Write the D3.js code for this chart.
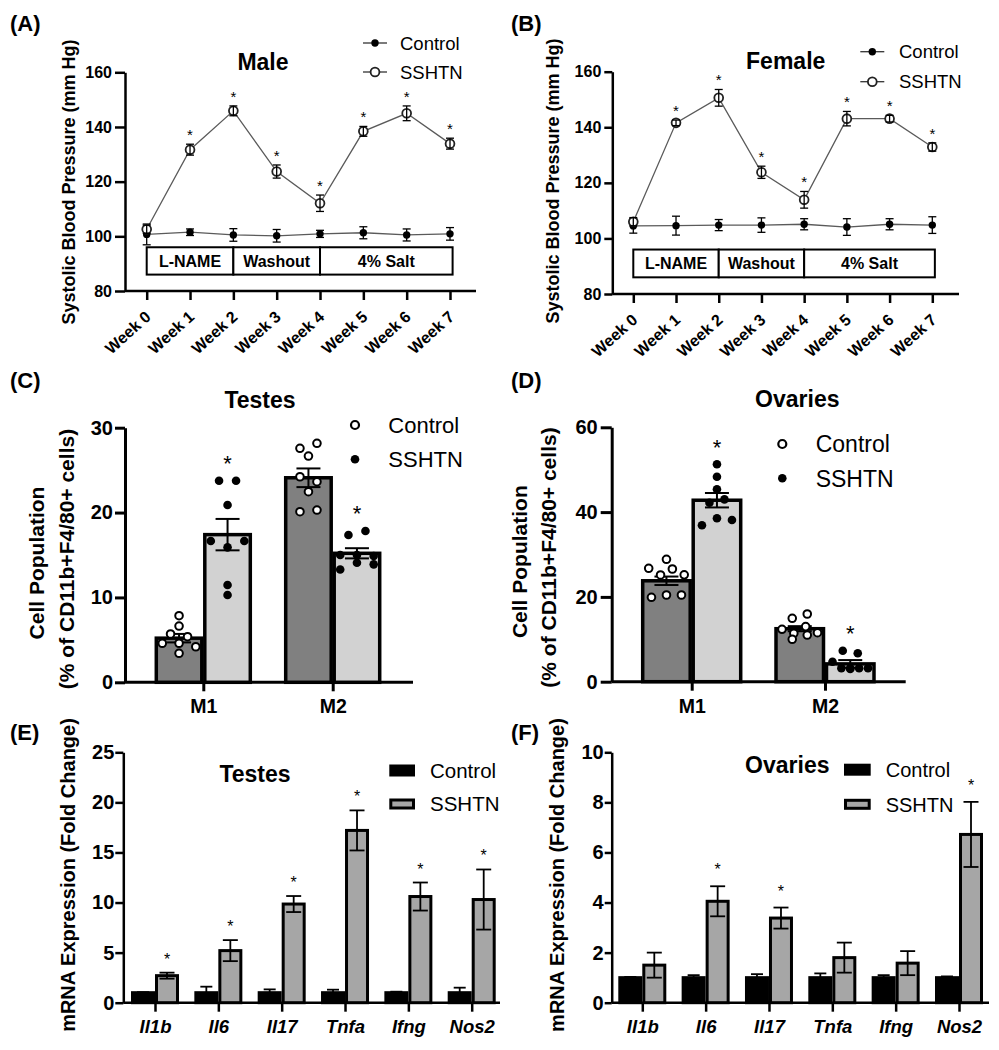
<!DOCTYPE html>
<html><head><meta charset="utf-8">
<script src="https://cdn.jsdelivr.net/npm/d3@7"></script>
<style>
body{margin:0;background:#fff;}
svg{display:block;}
text{font-family:"Liberation Sans",Arial,sans-serif;fill:#000;}
</style></head><body>
<svg id="fig" width="999" height="1050"></svg>
<script>
// ---------------- DATA ----------------
const weeks = ["Week 0","Week 1","Week 2","Week 3","Week 4","Week 5","Week 6","Week 7"];
const bpTicks = [80,100,120,140,160];
const maleControl    = [100.7,101.5,100.5,100.2,100.9,101.3,100.5,100.9];
const maleControlErr = [3.8,1.2,2.3,2.3,1.3,2.2,2.2,2.3];
const maleSSHTN      = [102.6,131.7,145.9,123.7,112.1,138.4,145.0,133.9];
const maleSSHTNErr   = [1.5,2.0,1.8,2.4,3.0,1.8,2.7,2.0];
const maleSig        = [0,1,1,1,1,1,1,1];
const femaleControl    = [104.5,104.6,104.8,104.8,105.1,104.1,105.1,104.8];
const femaleControlErr = [2.6,3.4,2.0,2.6,2.0,3.0,2.0,3.0];
const femaleSSHTN      = [106.0,141.6,150.6,123.8,113.9,143.1,143.1,132.9];
const femaleSSHTNErr   = [1.5,1.0,3.0,2.2,3.0,2.6,1.2,1.5];
const femaleSig        = [0,1,1,1,1,1,1,1];
const phaseLabels = ["L-NAME","Washout","4% Salt"];
const phaseStart  = [0,2,4];
const phaseEnd    = [2,4,7.06];
const phaseLow = 86, phaseHigh = 96;

const cellTypes = ["M1","M2"];
const testesTicks = [0,10,20,30];
const testesCtrlMean = [5.2,24.1];
const testesCtrlSem  = [0.5,1.1];
const testesSSMean   = [17.4,15.2];
const testesSSSem    = [1.85,0.6];
const testesM1Ctrl = [7.85,6.63,5.69,5.37,4.6,4.6,4.19,3.42];
const testesM1SS   = [23.75,23.75,20.9,16.65,15.9,16.65,11.46,10.29];
const testesM2Ctrl = [27.57,28.16,26.66,24.22,23.64,22.46,20.1,20.3];
const testesM2SS   = [17.36,17.83,15.0,15.0,14.88,13.3,14.09,13.9];
const testesSig    = [1,1];

const ovaryTicks = [0,20,40,60];
const ovaryCtrlMean = [23.8,12.5];
const ovaryCtrlSem  = [1.0,0.6];
const ovarySSMean   = [42.8,4.2];
const ovarySSSem    = [1.7,0.9];
const ovaryM1Ctrl = [28.87,26.75,25.17,26.58,25.2,19.9,20.45,20.45];
const ovaryM1SS   = [51.3,48.35,45.38,42.2,43.0,36.9,38.54,38.14];
const ovaryM2Ctrl = [14.95,15.97,12.36,11.42,13.0,11.56,10.0,11.0];
const ovaryM2SS   = [7.3,6.7,4.7,3.2,3.2,3.2,3.2,3.0];
const ovarySig    = [1,1];

const genes = ["Il1b","Il6","Il17","Tnfa","Ifng","Nos2"];
const testesTicksE = [0,5,10,15,20,25];
const testesGeneCtrl    = [1,1,1,1,1,1];
const testesGeneCtrlErr = [0.05,0.6,0.33,0.3,0.1,0.5];
const testesGeneSS      = [2.7,5.2,9.85,17.2,10.6,10.3];
const testesGeneSSErr   = [0.3,1.05,0.8,2.0,1.4,3.0];
const testesGeneSig     = [1,1,1,1,1,1];
const ovaryTicksF = [0,2,4,6,8,10];
const ovaryGeneCtrl    = [1,1,1,1,1,1];
const ovaryGeneCtrlErr = [0.03,0.1,0.14,0.17,0.1,0.05];
const ovaryGeneSS      = [1.5,4.05,3.38,1.8,1.58,6.72];
const ovaryGeneSSErr   = [0.5,0.6,0.42,0.6,0.48,1.3];
const ovaryGeneSig     = [0,1,1,0,0,1];

// ---------------- DRAWING ----------------
const svg = d3.select("#fig");
svg.append("rect").attr("width",999).attr("height",1050).attr("fill","#fff");
const TITLE_FONT = 'Lato, "Open Sans", sans-serif';
const ARIAL = '"Liberation Sans",Arial,sans-serif';

function txt(x,y,s,size,opts={}){
  const t = svg.append("text").attr("x",x).attr("y",y).attr("font-size",size).attr("fill","#000").text(s);
  if(opts.bold) t.attr("font-weight","bold");
  if(opts.anchor) t.attr("text-anchor",opts.anchor);
  if(opts.family) t.attr("font-family",opts.family);
  if(opts.dy) t.attr("dy",opts.dy);
  if(opts.rotate) t.attr("transform",`rotate(${opts.rotate},${x},${y})`);
  return t;
}

function yAxis(scale, x, ticks, o){
  const g = svg.append("g").attr("transform",`translate(${x},0)`);
  g.call(d3.axisLeft(scale).tickValues(ticks).tickSize(o.tickLen).tickSizeOuter(0).tickPadding(o.pad));
  g.select(".domain").attr("stroke","#000").attr("stroke-width",o.sw);
  g.selectAll(".tick line").attr("stroke","#000").attr("stroke-width",o.sw);
  g.selectAll(".tick text").attr("font-size",o.fs).attr("font-weight","bold")
    .attr("font-family",ARIAL).attr("fill","#000");
  return g;
}
function hLine(x1,x2,y,sw){
  svg.append("line").attr("x1",x1).attr("x2",x2).attr("y1",y).attr("y2",y).attr("stroke","#000").attr("stroke-width",sw);
}
function errBar(x,y1,y2,cap,sw){
  const g = svg.append("g").attr("stroke","#000").attr("stroke-width",sw);
  g.append("line").attr("x1",x).attr("x2",x).attr("y1",y1).attr("y2",y2);
  g.append("line").attr("x1",x-cap/2).attr("x2",x+cap/2).attr("y1",y1).attr("y2",y1);
  g.append("line").attr("x1",x-cap/2).attr("x2",x+cap/2).attr("y1",y2).attr("y2",y2);
}

// ---- Panels A/B: line charts ----
function linePanel(c){
  const x = d3.scaleLinear().domain([0,weeks.length-1]).range([c.x0,c.x1]);
  const y = d3.scaleLinear().domain([80,160]).range([c.yB,c.yT]);
  yAxis(y,c.axisX,bpTicks,{tickLen:c.tickLen,pad:3,sw:2.5,fs:16});
  hLine(c.axisX,c.axisEnd,c.yB,2.5);
  const xg = svg.append("g").attr("transform",`translate(0,${c.yB})`);
  xg.call(d3.axisBottom(x).tickValues(d3.range(weeks.length)).tickFormat(i=>weeks[i]).tickSize(9).tickSizeOuter(0));
  xg.select(".domain").remove();
  xg.selectAll(".tick line").attr("stroke","#000").attr("stroke-width",2.5);
  xg.selectAll(".tick text").attr("font-size",16).attr("font-weight","bold")
    .attr("font-family",ARIAL).attr("fill","#000")
    .attr("text-anchor","end").attr("y",0).attr("dy","0.35em")
    .attr("transform","translate(1,23) rotate(-42)");

  // phase boxes
  phaseLabels.forEach((lab,i)=>{
    svg.append("rect").attr("x",x(phaseStart[i])).attr("y",y(phaseHigh))
      .attr("width",x(phaseEnd[i])-x(phaseStart[i])).attr("height",y(phaseLow)-y(phaseHigh))
      .attr("fill","#fff").attr("stroke","#000").attr("stroke-width",2);
    txt((x(phaseStart[i])+x(phaseEnd[i]))/2,(y(phaseLow)+y(phaseHigh))/2,lab,16,{bold:true,anchor:"middle",dy:"0.36em"});
  });

  const line = d3.line().x((d,i)=>x(i)).y(d=>y(d));
  [c.ctrl,c.ss].forEach(s=>{
    svg.append("path").datum(s).attr("d",line).attr("fill","none").attr("stroke","#5a5a5a").attr("stroke-width",1.3);
  });
  c.ctrl.forEach((v,i)=>{
    svg.append("circle").attr("cx",x(i)).attr("cy",y(v)).attr("r",3.7).attr("fill","#000");
    errBar(x(i),y(v+c.ctrlErr[i]),y(v-c.ctrlErr[i]),8,1.3);
  });
  c.ss.forEach((v,i)=>{
    svg.append("circle").attr("cx",x(i)).attr("cy",y(v)).attr("r",4.4).attr("fill","#fff").attr("stroke","#222").attr("stroke-width",1.8);
    errBar(x(i),y(v+c.ssErr[i]),y(v-c.ssErr[i]),8,1.3);
    if(c.sig[i]) txt(x(i),y(v+c.ssErr[i])-4,"*",15,{anchor:"middle"});
  });
  // legend
  [["Control",c.legY[0],true],["SSHTN",c.legY[1],false]].forEach(([lab,ly,filled])=>{
    svg.append("line").attr("x1",c.legX-12).attr("x2",c.legX+12).attr("y1",ly).attr("y2",ly).attr("stroke","#333").attr("stroke-width",1.3);
    if(filled) svg.append("circle").attr("cx",c.legX).attr("cy",ly).attr("r",3.7).attr("fill","#000");
    else svg.append("circle").attr("cx",c.legX).attr("cy",ly).attr("r",4.4).attr("fill","#fff").attr("stroke","#222").attr("stroke-width",1.8);
    txt(c.legTX,ly,lab,18.5,{dy:"0.36em"});
  });
  txt(c.titleX,c.titleY,c.title,23,{bold:true,anchor:"middle",family:TITLE_FONT});
  txt(c.ylabX,c.ylabY,"Systolic Blood Pressure (mm Hg)",18,{bold:true,anchor:"middle",rotate:-90});
}

linePanel({x0:146.7,x1:450,yB:291,yT:72.3,axisX:125,axisEnd:476,tickLen:10,
  ctrl:maleControl,ctrlErr:maleControlErr,ss:maleSSHTN,ssErr:maleSSHTNErr,sig:maleSig,
  legX:375,legY:[43,72],legTX:400,title:"Male",titleX:263,titleY:70,ylabX:75,ylabY:182});
linePanel({x0:633.3,x1:932.3,yB:294,yT:71.7,axisX:612.3,axisEnd:959,tickLen:8,
  ctrl:femaleControl,ctrlErr:femaleControlErr,ss:femaleSSHTN,ssErr:femaleSSHTNErr,sig:femaleSig,
  legX:872.3,legY:[51.7,81.7],legTX:899,title:"Female",titleX:785.7,titleY:68.5,ylabX:559,ylabY:181});

// ---- Panels C/D: bar + scatter ----
function swarm(vals, y, step, maxSpan, thr){
  const order = vals.map((v,i)=>i).sort((a,b)=>vals[b]-vals[a]);
  const rows=[]; let cur=null;
  order.forEach(i=>{
    const py=y(vals[i]);
    if(cur && Math.abs(py-cur.start)<thr){cur.idx.push(i);}
    else {cur={start:py,idx:[i]};rows.push(cur);}
  });
  const out=new Array(vals.length);
  rows.forEach(r=>{
    r.idx.sort((a,b)=>a-b);
    const n=r.idx.length;
    const st = n>1 ? Math.min(step, maxSpan/(n-1)) : 0;
    r.idx.forEach((i,j)=>{ out[i]={dx:(j-(n-1)/2)*st, y:y(vals[i])}; });
  });
  return out;
}
function cellPanel(c){
  const y = d3.scaleLinear().domain([0,c.max]).range([c.yB,c.yT]);
  const x = d3.scalePoint().domain(cellTypes).range([c.m1,c.m2]);
  yAxis(y,c.axisX,c.ticks,{tickLen:c.tickLen,pad:c.pad,sw:3,fs:20});
  hLine(c.axisX,c.axisEnd,c.yB,3);
  const xg = svg.append("g").attr("transform",`translate(0,${c.yB})`);
  xg.call(d3.axisBottom(x).tickSize(9).tickSizeOuter(0).tickPadding(8));
  xg.select(".domain").remove();
  xg.selectAll(".tick line").attr("stroke","#000").attr("stroke-width",3);
  xg.selectAll(".tick text").attr("font-size",19.5).attr("font-weight","bold")
    .attr("font-family",ARIAL).attr("fill","#000");

  const bw=c.bw, sw=3.5;
  const groups=[
    {mean:c.ctrlMean,sem:c.ctrlSem,pts:c.ctrlPts,fill:"#808080",off:-1.5-bw,open:true},
    {mean:c.ssMean,sem:c.ssSem,pts:c.ssPts,fill:"#d2d2d2",off:1.5,open:false}
  ];
  groups.forEach(gr=>{
    cellTypes.forEach((ct,k)=>{
      const bx=x(ct)+gr.off;
      svg.append("rect").attr("x",bx).attr("y",y(gr.mean[k])).attr("width",bw)
        .attr("height",c.yB-y(gr.mean[k])).attr("fill",gr.fill).attr("stroke","#000").attr("stroke-width",sw);
    });
  });
  groups.forEach((gr,gi)=>{
    cellTypes.forEach((ct,k)=>{
      const cx=x(ct)+gr.off+bw/2;
      errBar(cx,y(gr.mean[k]+gr.sem[k]),y(gr.mean[k]-gr.sem[k]),c.cap,2);
      const pos=swarm(gr.pts[k],y,c.step,bw-12,7);
      pos.forEach(p=>{
        const ci=svg.append("circle").attr("cx",cx+p.dx).attr("cy",p.y);
        if(gr.open) ci.attr("r",3.8).attr("fill","#fff").attr("stroke","#000").attr("stroke-width",2);
        else ci.attr("r",4.3).attr("fill","#000");
      });
      if(gi===1 && c.sig[k]){
        const top=d3.max(gr.pts[k]);
        txt(cx,y(top)-9.5,"*",22,{anchor:"middle"});
      }
    });
  });
  // legend
  svg.append("circle").attr("cx",c.legX).attr("cy",c.legY[0]).attr("r",4).attr("fill","#fff").attr("stroke","#000").attr("stroke-width",2.2);
  svg.append("circle").attr("cx",c.legX).attr("cy",c.legY[1]).attr("r",4.3).attr("fill","#000");
  txt(c.legTX,c.legY[0],"Control",c.legFs,{dy:"0.36em"});
  txt(c.legTX,c.legY[1],"SSHTN",c.legFs,{dy:"0.36em"});
  txt(c.titleX,c.titleY,c.title,23,{bold:true,anchor:"middle",family:TITLE_FONT});
  txt(c.yl1X,c.yl1Y,"Cell Population",21,{bold:true,anchor:"middle",rotate:-90});
  txt(c.yl2X,c.yl2Y,"(% of CD11b+F4/80+ cells)",21,{bold:true,anchor:"middle",rotate:-90});
}
cellPanel({max:30,ticks:testesTicks,yB:682.3,yT:427.7,axisX:125,axisEnd:413,tickLen:10,pad:2,
  m1:203.3,m2:332.7,bw:45.5,cap:24,step:17,
  ctrlMean:testesCtrlMean,ctrlSem:testesCtrlSem,ssMean:testesSSMean,ssSem:testesSSSem,
  ctrlPts:[testesM1Ctrl,testesM2Ctrl],ssPts:[testesM1SS,testesM2SS],sig:testesSig,
  legX:355,legY:[425,459.3],legTX:388.3,legFs:22,title:"Testes",titleX:260,titleY:408.3,
  yl1X:44,yl1Y:563,yl2X:74,yl2Y:559});
cellPanel({max:60,ticks:ovaryTicks,yB:681.7,yT:427.3,axisX:611.7,axisEnd:905.7,tickLen:11,pad:3,
  m1:691.7,m2:825,bw:47.5,cap:24,step:15,
  ctrlMean:ovaryCtrlMean,ctrlSem:ovaryCtrlSem,ssMean:ovarySSMean,ssSem:ovarySSSem,
  ctrlPts:[ovaryM1Ctrl,ovaryM2Ctrl],ssPts:[ovaryM1SS,ovaryM2SS],sig:ovarySig,
  legX:782.3,legY:[444,478.3],legTX:815.7,legFs:23,title:"Ovaries",titleX:797.3,titleY:406.7,
  yl1X:527,yl1Y:561.7,yl2X:556,yl2Y:557.5});

// ---- Panels E/F: mRNA bars ----
function mrnaPanel(c){
  const y = d3.scaleLinear().domain([0,c.max]).range([1002.7,752.3]);
  const x = d3.scalePoint().domain(genes).range([c.g0,c.g1]);
  yAxis(y,c.axisX,c.ticks,{tickLen:c.tickLen,pad:c.pad,sw:2.5,fs:20});
  hLine(c.axisX,c.axisEnd,1002.7,2.5);
  const xg = svg.append("g").attr("transform",`translate(0,1002.7)`);
  xg.call(d3.axisBottom(x).tickSize(9).tickSizeOuter(0).tickPadding(8));
  xg.select(".domain").remove();
  xg.selectAll(".tick line").attr("stroke","#000").attr("stroke-width",2.5);
  xg.selectAll(".tick text").attr("font-size",18.5).attr("font-weight","bold").attr("font-style","italic")
    .attr("font-family",ARIAL).attr("fill","#000");
  const bw=21;
  genes.forEach((g,i)=>{
    const gx=x(g);
    svg.append("rect").attr("x",gx-1.5-bw).attr("y",y(c.ctrl[i])).attr("width",bw).attr("height",1002.7-y(c.ctrl[i]))
      .attr("fill","#000").attr("stroke","#000").attr("stroke-width",3);
    svg.append("rect").attr("x",gx+1.5).attr("y",y(c.ss[i])).attr("width",bw).attr("height",1002.7-y(c.ss[i]))
      .attr("fill","#a6a6a6").attr("stroke","#000").attr("stroke-width",3);
  });
  genes.forEach((g,i)=>{
    const gx=x(g);
    const cx1=gx-1.5-bw/2, cx2=gx+1.5+bw/2;
    errBar(cx1,y(c.ctrl[i]+c.ctrlErr[i]),y(c.ctrl[i]-c.ctrlErr[i]),12,1.8);
    errBar(cx2,y(c.ss[i]+c.ssErr[i]),y(c.ss[i]-c.ssErr[i]),15,1.8);
    if(c.sig[i]) txt(cx2,y(c.ss[i]+c.ssErr[i])-c.starOff,"*",16,{anchor:"middle"});
  });
  svg.append("rect").attr("x",c.legX+1).attr("y",c.legY[0]-5).attr("width",c.legW-2).attr("height",10)
    .attr("fill","#000").attr("stroke","#000").attr("stroke-width",2);
  svg.append("rect").attr("x",c.legX+1.5).attr("y",c.legY[1]-4).attr("width",c.legW-3).attr("height",8)
    .attr("fill","#a6a6a6").attr("stroke","#000").attr("stroke-width",3);
  txt(c.legTX,c.legY[0],"Control",c.legFs,{dy:"0.36em"});
  txt(c.legTX,c.legY[1],"SSHTN",c.legFs,{dy:"0.36em"});
  txt(c.titleX,c.titleY,c.title,23,{bold:true,anchor:"middle",family:TITLE_FONT});
  txt(c.ylX,875,"mRNA Expression (Fold Change)",20,{bold:true,anchor:"middle",rotate:-90});
}
mrnaPanel({max:25,ticks:testesTicksE,axisX:123.3,axisEnd:500,tickLen:8,pad:1,g0:155,g1:471.7,
  ctrl:testesGeneCtrl,ctrlErr:testesGeneCtrlErr,ss:testesGeneSS,ssErr:testesGeneSSErr,sig:testesGeneSig,starOff:8,
  legX:389.3,legW:25.7,legY:[770.5,804],legTX:430,legFs:20.5,title:"Testes",titleX:255,titleY:781.7,ylX:75});
mrnaPanel({max:10,ticks:ovaryTicksF,axisX:611.7,axisEnd:989,tickLen:7,pad:1,g0:642.3,g1:959,
  ctrl:ovaryGeneCtrl,ctrlErr:ovaryGeneCtrlErr,ss:ovaryGeneSS,ssErr:ovaryGeneSSErr,sig:ovaryGeneSig,starOff:11,
  legX:844,legW:26.7,legY:[769.7,804.3],legTX:885.7,legFs:20,title:"Ovaries",titleX:787.3,titleY:773.3,ylX:564});

// panel letters
[["(A)",10,31],["(B)",511,31],["(C)",10,388],["(D)",511,388],["(E)",10,740],["(F)",511,740]]
  .forEach(([l,x,y])=>txt(x,y,l,22,{bold:true}));
</script>
</body></html>
